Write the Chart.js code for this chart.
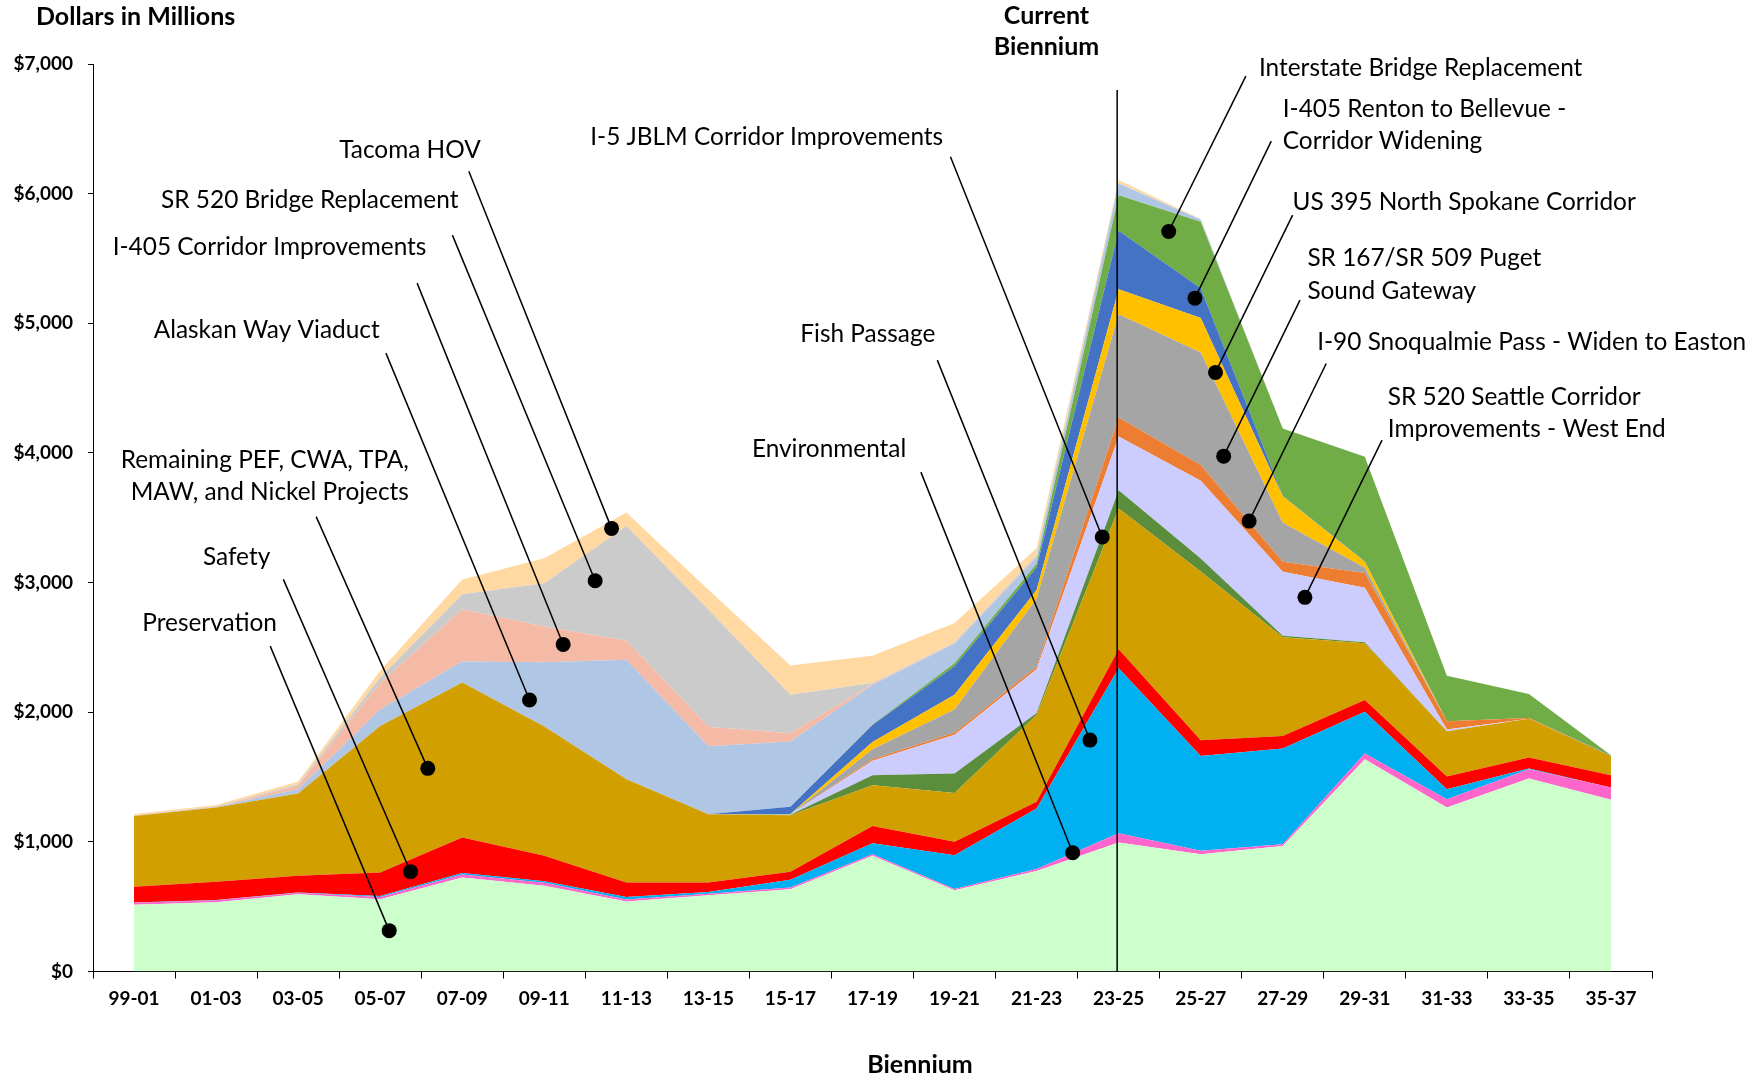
<!DOCTYPE html>
<html lang="en">

<head>
    <meta charset="UTF-8">
    <script src="https://cdn.jsdelivr.net/npm/chart.js"></script>
    <title>Biennium Spending</title>
    <style>
        body {
            margin: 0;
            background: #ffffff;
        }

        canvas {
            display: block;
        }
    </style>
</head>

<body>
    <canvas id="areaChart" width="1753" height="1079"></canvas>
    <script>
        // biennium labels
        const categories = ['99-01', '01-03', '03-05', '05-07', '07-09', '09-11', '11-13', '13-15', '15-17', '17-19',
            '19-21', '21-23', '23-25', '25-27', '27-29', '29-31', '31-33', '33-35', '35-37'];

        // y axis ticks ($ millions)
        const yTicks = [0, 1000, 2000, 3000, 4000, 5000, 6000, 7000];

        // series values, bottom of the stack first (dollars in millions)
        const preservation = [515, 535, 596, 558, 725, 661, 540, 589, 635, 892, 627, 776, 995, 905, 969, 1638, 1265, 1488, 1324];
        const environmental = [15, 15, 12, 17, 23, 23, 16, 11, 13, 13, 10, 14, 72, 26, 13, 43, 64, 72, 95];
        const fishPassage = [2, 2, 2, 7, 12, 12, 19, 14, 59, 85, 260, 467, 1273, 732, 738, 322, 77, 5, 1];
        const safety = [121, 140, 128, 181, 273, 196, 111, 72, 62, 133, 103, 53, 145, 121, 97, 92, 98, 85, 94];
        const remainingPef = [547, 573, 635, 1130, 1196, 998, 797, 527, 437, 314, 377, 668, 1087, 1301, 761, 437, 349, 300, 149];
        const i5Jblm = [0, 0, 0, 0, 0, 0, 0, 0, 4, 77, 150, 15, 141, 100, 12, 8, 0, 0, 0];
        const sr520West = [0, 0, 0, 0, 0, 0, 0, 0, 2, 111, 300, 338, 414, 600, 493, 420, 13, 0, 0];
        const i90Snoqualmie = [0, 0, 0, 0, 0, 0, 0, 0, 1, 13, 16, 20, 147, 121, 77, 114, 65, 5, 0];
        const sr167Sr509 = [0, 0, 0, 0, 0, 0, 0, 0, 0, 77, 177, 524, 796, 869, 301, 40, 0, 0, 0];
        const us395 = [0, 0, 0, 0, 0, 0, 0, 0, 2, 56, 115, 68, 192, 265, 204, 46, 0, 0, 0];
        const i405Renton = [0, 0, 0, 0, 0, 0, 0, 0, 56, 131, 219, 173, 451, 230, 5, 5, 0, 0, 3];
        const interstateBridge = [0, 0, 0, 0, 0, 0, 0, 0, 0, 3, 23, 30, 275, 514, 519, 805, 350, 185, 2];
        const alaskanWay = [2, 3, 33, 127, 163, 495, 922, 524, 503, 305, 153, 50, 90, 17, 0, 0, 0, 0, 0];
        const i405Corridor = [1, 4, 26, 205, 403, 277, 149, 151, 64, 7, 5, 8, 2, 0, 0, 0, 0, 0, 0];
        const sr520Bridge = [2, 3, 13, 42, 115, 332, 882, 902, 296, 8, 5, 10, 3, 0, 0, 0, 0, 0, 0];
        const tacomaHov = [10, 10, 20, 52, 113, 193, 105, 155, 226, 211, 148, 50, 22, 4, 0, 0, 0, 0, 0];

        const series = [
            ['Preservation', preservation, '#ccffcc'],
            ['Environmental', environmental, '#ff66cc'],
            ['Fish Passage', fishPassage, '#00b0f0'],
            ['Safety', safety, '#ff0000'],
            ['Remaining PEF, CWA, TPA, MAW, and Nickel Projects', remainingPef, '#d19f00'],
            ['I-5 JBLM Corridor Improvements', i5Jblm, '#5a8e3c'],
            ['SR 520 Seattle Corridor Improvements - West End', sr520West, '#ccccff'],
            ['I-90 Snoqualmie Pass - Widen to Easton', i90Snoqualmie, '#ed7d31'],
            ['SR 167/SR 509 Puget Sound Gateway', sr167Sr509, '#a5a5a5'],
            ['US 395 North Spokane Corridor', us395, '#ffc000'],
            ['I-405 Renton to Bellevue - Corridor Widening', i405Renton, '#4472c4'],
            ['Interstate Bridge Replacement', interstateBridge, '#70ad47'],
            ['Alaskan Way Viaduct', alaskanWay, '#afc6e5'],
            ['I-405 Corridor Improvements', i405Corridor, '#f4baa6'],
            ['SR 520 Bridge Replacement', sr520Bridge, '#cbcbcb'],
            ['Tacoma HOV', tacomaHov, '#ffd9a1']
        ];

        // callouts: text anchor, leader start and dot, all in (category index, $ value)
        const callouts = [
            { text: ['Preservation'], at: [0.10, 2688], from: [1.66, 2510], dot: [3.11, 315] },
            { text: ['Safety'], at: [0.84, 3197], from: [1.82, 3025], dot: [3.37, 770] },
            { text: ['Remaining PEF, CWA, TPA,', 'MAW, and Nickel Projects'], at: [3.35, 3948], align: 'right', from: [2.22, 3509], dot: [3.58, 1567] },
            { text: ['Alaskan Way Viaduct'], at: [0.24, 4947], from: [3.07, 4770], dot: [4.82, 2094] },
            { text: ['I-405 Corridor Improvements'], at: [-0.26, 5588], from: [3.45, 5310], dot: [5.23, 2523] },
            { text: ['SR 520 Bridge Replacement'], at: [0.33, 5950], from: [3.88, 5680], dot: [5.62, 3014] },
            { text: ['Tacoma HOV'], at: [2.50, 6336], from: [4.08, 6173], dot: [5.82, 3418] },
            { text: ['I-5 JBLM Corridor Improvements'], at: [5.56, 6432], from: [9.95, 6285], dot: [11.80, 3351] },
            { text: ['Fish Passage'], at: [8.12, 4916], from: [9.79, 4716], dot: [11.65, 1785] },
            { text: ['Environmental'], at: [7.53, 4029], from: [9.59, 3852], dot: [11.44, 916] },
            { text: ['Interstate Bridge Replacement'], at: [13.71, 6968], from: [13.55, 6906], dot: [12.61, 5708] },
            { text: ['I-405 Renton to Bellevue -', 'Corridor Widening'], at: [14.00, 6655], from: [13.86, 6405], dot: [12.93, 5194] },
            { text: ['US 395 North Spokane Corridor'], at: [14.12, 5934], from: [14.12, 5834], dot: [13.18, 4621] },
            { text: ['SR 167/SR 509 Puget', 'Sound Gateway'], at: [14.30, 5502], from: [14.21, 5179], dot: [13.28, 3975] },
            { text: ['I-90 Snoqualmie Pass - Widen to Easton'], at: [14.42, 4855], from: [14.53, 4690], dot: [13.59, 3474] },
            { text: ['SR 520 Seattle Corridor', 'Improvements - West End'], at: [15.28, 4433], from: [15.21, 4099], dot: [14.27, 2886] }
        ];

        const currentIndex = 12;
        const FONT = 'Lato';

        const datasets = series.map(function (s, i) {
            return {
                label: s[0],
                data: s[1],
                backgroundColor: s[2],
                borderColor: s[2],
                borderWidth: 0,
                pointRadius: 0,
                tension: 0,
                fill: i === 0 ? 'origin' : '-1'
            };
        });

        const annotations = {
            id: 'annotations',
            afterDraw(chart) {
                const ctx = chart.ctx;
                const x = chart.scales.x;
                const y = chart.scales.y;
                const area = chart.chartArea;
                const px = function (i) { return x.getPixelForValue(0) + i * (x.getPixelForValue(1) - x.getPixelForValue(0)); };
                const py = function (v) { return y.getPixelForValue(v); };

                ctx.save();

                // current biennium marker
                ctx.strokeStyle = '#000000';
                ctx.lineWidth = 1.5;
                ctx.beginPath();
                ctx.moveTo(px(currentIndex) - 1.5, py(6800));
                ctx.lineTo(px(currentIndex) - 1.5, area.bottom);
                ctx.stroke();

                ctx.fillStyle = '#000000';
                ctx.font = 'bold 25px ' + FONT;
                ctx.textAlign = 'center';
                ctx.textBaseline = 'middle';
                ctx.fillText('Current', px(11.12), py(7369));
                ctx.fillText('Biennium', px(11.12), py(7130));

                // axis titles
                ctx.textAlign = 'left';
                ctx.fillText('Dollars in Millions', 36, 17);
                ctx.textAlign = 'center';
                ctx.fillText('Biennium', 920, 1065);

                // callouts
                ctx.lineWidth = 1.5;
                callouts.forEach(function (c) {
                    ctx.beginPath();
                    ctx.moveTo(px(c.from[0]), py(c.from[1]));
                    ctx.lineTo(px(c.dot[0]), py(c.dot[1]));
                    ctx.stroke();

                    ctx.beginPath();
                    ctx.arc(px(c.dot[0]), py(c.dot[1]), 7.5, 0, Math.PI * 2);
                    ctx.fill();

                    ctx.font = '24.4px ' + FONT;
                    ctx.textAlign = c.align || 'left';
                    ctx.textBaseline = 'middle';
                    c.text.forEach(function (line, k) {
                        ctx.fillText(line, px(c.at[0]), py(c.at[1]) + k * 32.5);
                    });
                });

                ctx.restore();
            }
        };

        const ctxArea = document.getElementById('areaChart').getContext('2d');
        new Chart(ctxArea, {
            type: 'line',
            data: {
                labels: categories,
                datasets: datasets
            },
            options: {
                responsive: false,
                animation: false,
                devicePixelRatio: 1,
                layout: {
                    padding: { top: 64, right: 101, bottom: 47.5, left: 0 }
                },
                plugins: {
                    legend: { display: false },
                    tooltip: { enabled: false }
                },
                scales: {
                    x: {
                        offset: true,
                        z: 1,
                        grid: {
                            offset: true,
                            drawOnChartArea: false,
                            tickLength: 7,
                            color: '#000000'
                        },
                        border: { color: '#000000', width: 1 },
                        ticks: {
                            color: '#000000',
                            font: { family: FONT, size: 19, weight: 'bold' },
                            padding: 9,
                            maxRotation: 0,
                            autoSkip: false
                        },
                        afterFit(scale) {
                            scale.height = 60;
                        }
                    },
                    y: {
                        stacked: true,
                        min: 0,
                        max: 7000,
                        z: 1,
                        afterBuildTicks(scale) {
                            scale.ticks = yTicks.map(function (v) { return { value: v }; });
                        },
                        grid: {
                            drawOnChartArea: false,
                            tickLength: 5,
                            color: '#000000'
                        },
                        border: { color: '#000000', width: 1 },
                        ticks: {
                            color: '#000000',
                            font: { family: FONT, size: 19, weight: 'bold' },
                            padding: 15,
                            callback: function (v) {
                                return '$' + Number(v).toLocaleString('en-US');
                            }
                        },
                        afterFit(scale) {
                            scale.width = 93;
                        }
                    }
                }
            },
            plugins: [annotations]
        });
    </script>
</body>

</html>
